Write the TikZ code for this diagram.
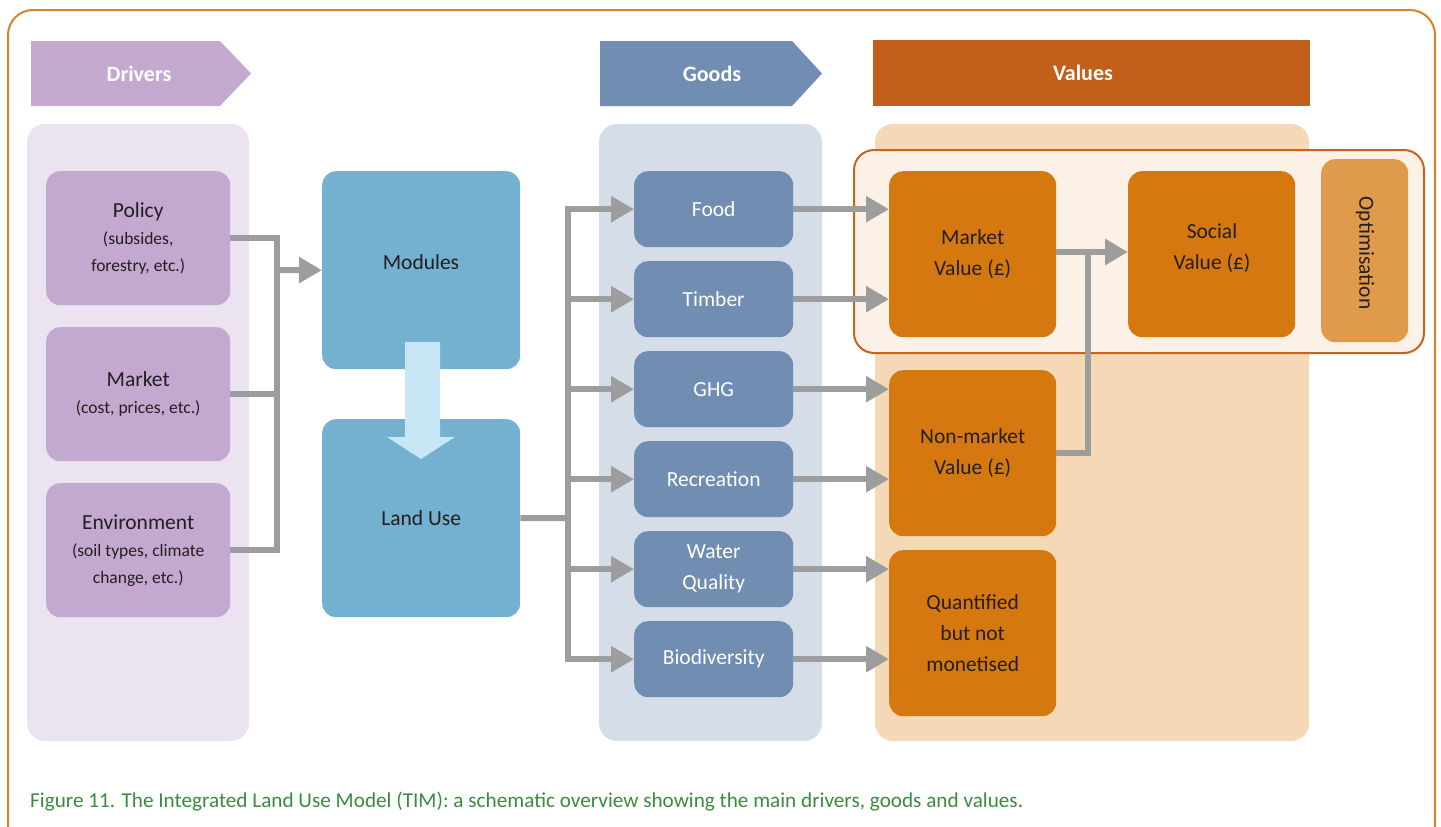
\documentclass[tikz,border=0pt]{standalone}
\usepackage{fontspec}
\setmainfont{Carlito}
\usetikzlibrary{arrows.meta,calc,shapes.geometric}
\definecolor{drvlight}{HTML}{ECE3F0}
\definecolor{purp}{HTML}{C3A9CF}
\definecolor{modblue}{HTML}{74B0CF}
\definecolor{lightarr}{HTML}{C7E6F6}
\definecolor{goodspanel}{HTML}{D4DDE8}
\definecolor{goodsbox}{HTML}{728DB2}
\definecolor{valpanel}{HTML}{F5D9B7}
\definecolor{valbox}{HTML}{D5780F}
\definecolor{valhead}{HTML}{C25F1A}
\definecolor{optcol}{HTML}{E09A4C}
\definecolor{hlfill}{HTML}{FCF1E6}
\definecolor{hldraw}{HTML}{C8631E}
\definecolor{border}{HTML}{D9822B}
\definecolor{conn}{HTML}{9D9D9D}
\definecolor{capgreen}{HTML}{3B8B3E}
\definecolor{txt}{HTML}{231F20}
\tikzset{
  panel/.style={rounded corners=18pt},
  box/.style={rounded corners=14pt, anchor=north west, inner sep=0pt, align=center, text=txt, font=\fontsize{21.5}{31}\selectfont},
  goodbox/.style={box, fill=goodsbox, minimum width=159pt, minimum height=76pt, text=white},
  valuebox/.style={box, fill=valbox, minimum width=167pt, minimum height=166pt},
  drvbox/.style={box, fill=purp, minimum width=184pt, minimum height=134pt},
  modbox/.style={box, fill=modblue, minimum width=198pt, minimum height=198pt},
  gline/.style={draw=conn, line width=6pt, miter limit=10},
  garr/.style={gline, -{Triangle[length=23pt,width=25pt]}},
  headtxt/.style={text=white, font=\bfseries\fontsize{22}{25}\selectfont},
}
\newcommand{\smalltxt}{\fontsize{17.5}{27}\selectfont}
\begin{document}
\begin{tikzpicture}[x=1pt,y=-1pt]
\useasboundingbox (0,0) rectangle (1441,827);
% outer border
\draw[border, line width=2pt, rounded corners=25pt] (8,10) rectangle (1435,850);
% headers
\fill[purp] (31,41) -- (220,41) -- (251,73.5) -- (220,106) -- (31,106) -- cycle;
\node[headtxt] (hdrv) at (139,73.5) {Drivers};
\fill[goodsbox] (600,41) -- (792,41) -- (822,73.5) -- (792,106) -- (600,106) -- cycle;
\node[headtxt] (hgoods) at (712,73.5) {Goods};
\fill[valhead] (873,40) rectangle (1310,106);
\node[headtxt] (hval) at (1083,73) {Values};
% panels
\fill[drvlight, panel] (27,124) rectangle (249,741);
\fill[goodspanel, panel] (599,124) rectangle (822,741);
\fill[valpanel, panel] (875,124) rectangle (1309,741);
\draw[hldraw, fill=hlfill, line width=2pt, rounded corners=20pt] (854,150) rectangle (1424,353);
% drivers
\node[drvbox] (policy) at (46,171) {Policy\\[-4pt]{\smalltxt(subsides,}\\[-4pt]{\smalltxt forestry, etc.)}};
\node[drvbox] (market) at (46,327) {Market\\[-4pt]{\smalltxt(cost, prices, etc.)}};
\node[drvbox] (env) at (46,483) {Environment\\[-4pt]{\smalltxt(soil types, climate}\\[-4pt]{\smalltxt change, etc.)}};
% modules
\node[modbox] (modules) at (322,171) {};
\node[text=txt, font=\fontsize{21.5}{25}\selectfont] (modlbl) at (421,262) {Modules};
\node[modbox] (landuse) at (322,419) {Land Use};
\fill[lightarr] (405,342) -- (440,342) -- (440,437) -- (455,437) -- (421,459) -- (387,437) -- (405,437) -- cycle;
% goods
\node[goodbox] (food) at (634,171) {Food};
\node[goodbox] (timber) at (634,261) {Timber};
\node[goodbox] (ghg) at (634,351) {GHG};
\node[goodbox] (rec) at (634,441) {Recreation};
\node[goodbox] (water) at (634,531) {Water\\Quality};
\node[goodbox] (bio) at (634,621) {Biodiversity};
% values
\node[valuebox] (mv) at (889,171) {Market\\Value (£)};
\node[valuebox] (sv) at (1128,171) {};
\node[text=txt, font=\fontsize{21.5}{31}\selectfont, align=center] (svlbl) at (1212,248) {Social\\Value (£)};
\node[valuebox] (nm) at (889,370) {Non-market\\Value (£)};
\node[valuebox] (qn) at (889,550) {Quantified\\but not\\monetised};
\node[box, fill=optcol, minimum width=87pt, minimum height=183pt] (opt) at (1321,159) {};
\node[rotate=-90, text=txt, font=\fontsize{21.5}{25}\selectfont] (optlbl) at (1365,253) {Optimisation};
% connectors: drivers -> modules
\coordinate (dbus) at (277,270);
\draw[gline] (policy.east) -- (dbus |- policy.east) |- (env.east);
\draw[gline] (market.east) -- (dbus |- market.east);
\draw[garr] ([xshift=-3pt]dbus) -- (modules.west);
% land use -> goods
\coordinate (gbus) at (568,518);
\draw[gline] (landuse.east) -- (gbus);
\draw[garr] (gbus |- bio.west) |- (food.west);
\draw[garr] (gbus |- timber.west) |- (bio.west);
\draw[garr] (gbus |- timber.west) -- (timber.west);
\draw[garr] (gbus |- ghg.west) -- (ghg.west);
\draw[garr] (gbus |- rec.west) -- (rec.west);
\draw[garr] (gbus |- water.west) -- (water.west);
% goods -> values
\draw[garr] (food.east) -- (food.east -| mv.west);
\draw[garr] (timber.east) -- (timber.east -| mv.west);
\draw[garr] (ghg.east) -- (ghg.east -| nm.west);
\draw[garr] (rec.east) -- (rec.east -| nm.west);
\draw[garr] (water.east) -- (water.east -| qn.west);
\draw[garr] (bio.east) -- (bio.east -| qn.west);
% values -> social
\coordinate (vbus) at (1088,252);
\draw[garr] (mv.east |- vbus) -- (sv.west |- vbus);
\draw[gline] (nm.east) -| (vbus);
% caption
\node[anchor=west, text=capgreen, font=\fontsize{21.2}{25}\selectfont, inner sep=0pt] (cap) at (30,802) {Figure 11. The Integrated Land Use Model (TIM): a schematic overview showing the main drivers, goods and values.};
\end{tikzpicture}
\end{document}
